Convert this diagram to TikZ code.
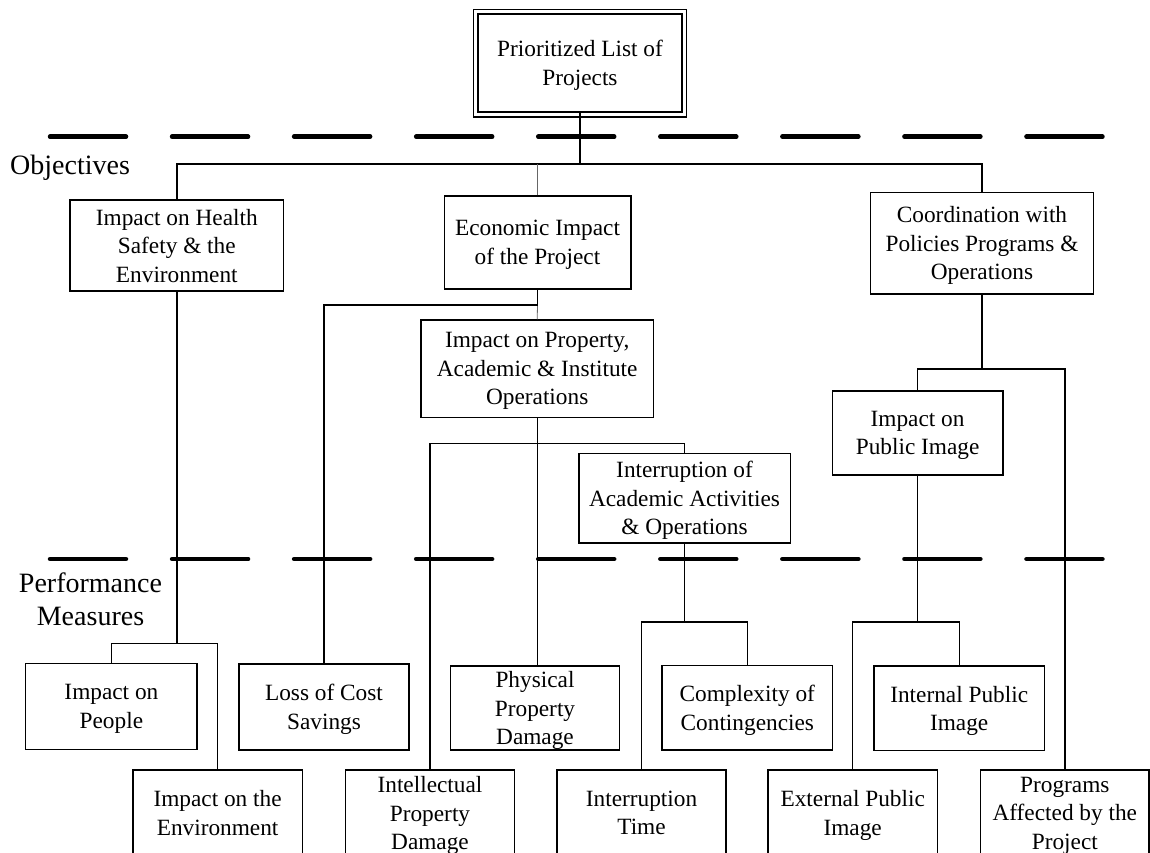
\documentclass[tikz,border=0pt]{standalone}
\usepackage{fontspec}
\setmainfont{Liberation Serif}
\begin{document}
\begin{tikzpicture}[x=1pt,y=-1pt,
  box/.style={draw, line width=1.6pt, inner sep=0pt, align=center, text depth=0pt,
    font=\fontsize{23.3}{28.5}\selectfont},
  link/.style={line width=1.4pt},
  faint/.style={line width=0.8pt, black!60},
  divider/.style={line width=4.5pt, line cap=round, dash pattern=on 76pt off 46.06pt},
  side/.style={font=\fontsize{28}{33.3}\selectfont, inner sep=0pt, align=center}]

\path[use as bounding box] (0,0) rectangle (1150,853);
\clip (0,0) rectangle (1150,853);

% goal
\node[box, line width=1.3pt, minimum width=204pt, minimum height=98pt] (top) at (580,63) {Prioritized List of\\Projects};
\draw[line width=1.3pt] ([shift={(-4pt,4pt)}]top.north west) rectangle ([shift={(4pt,-4.5pt)}]top.south east);

% objectives
\node[box, minimum width=213.6pt, minimum height=91pt]  (health) at (176.8,245.5) {Impact on Health\\Safety \& the\\Environment};
\node[box, minimum width=186.4pt, minimum height=92.7pt] (econ) at (537.5,242.4) {Economic Impact\\of the Project};
\node[box, minimum width=222.7pt, minimum height=101.7pt] (coord) at (982,243.2) {Coordination with\\Policies Programs \&\\Operations};
\node[box, minimum width=232.3pt, minimum height=97.3pt] (prop) at (537.2,368.7) {Impact on Property,\\Academic \& Institute\\Operations};
\node[box, minimum width=211.6pt, minimum height=89.4pt] (interr) at (684.5,498) {Interruption of\\Academic Activities\\\& Operations};
\node[box, minimum width=170.3pt, minimum height=84.3pt] (pubimg) at (917.6,432.9) {Impact on\\Public Image};

% performance measures, upper row
\node[box, minimum width=171.5pt, minimum height=86pt] (people) at (111.4,706.3) {Impact on\\People};
\node[box, minimum width=169.5pt, minimum height=86pt] (loss) at (324,707) {Loss of Cost\\Savings};
\node[box, minimum width=169.3pt, minimum height=84pt] (phys) at (535,708) {Physical\\Property\\Damage};
\node[box, minimum width=170.3pt, minimum height=84.7pt] (complex) at (747.3,707.7) {Complexity of\\Contingencies};
\node[box, minimum width=170.7pt, minimum height=84.7pt] (internal) at (959.2,708.3) {Internal Public\\Image};

% performance measures, lower row
\node[box, minimum width=169.5pt, minimum height=86pt] (env) at (217.6,813) {Impact on the\\Environment};
\node[box, minimum width=168.8pt, minimum height=86pt] (intel) at (430,813) {Intellectual\\Property\\Damage};
\node[box, minimum width=169pt, minimum height=86pt] (itime) at (641.5,813) {Interruption\\Time};
\node[box, minimum width=169.2pt, minimum height=86pt] (ext) at (852.7,813) {External Public\\Image};
\node[box, minimum width=168.5pt, minimum height=86pt] (prog) at (1064.8,813) {Programs\\Affected by the\\Project};

% level labels
\node[side, anchor=base west] (objlabel) at (10,175) {Objectives};
\node[side] (pmlabel) at (90.5,599) {Performance\\Measures};

% junction points of the tree
\coordinate (bus) at (580,164);
\coordinate (j1) at (537.5,305);
\coordinate (j2) at (537.2,443.3);
\coordinate (j3) at (982,369);
\coordinate (j4) at (917.6,622);
\coordinate (j5) at (684.5,622);
\coordinate (j6) at (176.8,643.3);

% connectors
\draw[link] (top.south) -- (bus);
\draw[link] (health.north) |- (bus) -| (coord.north);
\draw[faint] (econ.north) -- (econ.north |- bus);
\draw[link] (econ.south) -- (j1);
\draw[faint] (j1) -- (prop.north);
\draw[link] (j1) -| (loss.north);
\draw[link] (prop.south) -- (prop.south |- phys.north);
\draw[link] (intel.north) |- (j2) -| (interr.north);
\draw[link] (coord.south) -- (j3);
\draw[link] (pubimg.north) |- (j3) -| (prog.north);
\draw[link] (pubimg.south) -- (j4);
\draw[link] (ext.north) |- (j4) -| (internal.north);
\draw[link] (interr.south) -- (j5);
\draw[link] (itime.north) |- (j5) -| (complex.north);
\draw[link] (health.south) -- (j6);
\draw[link] (people.north) |- (j6) -| (env.north);

% level dividers
\coordinate (d1a) at (50,136.7);  \coordinate (d1b) at (1103,136.7);
\coordinate (d2a) at (50,559);    \coordinate (d2b) at (1103,559);
\draw[divider] (d1a) -- (d1b);
\draw[divider] (d2a) -- (d2b);
\end{tikzpicture}
\end{document}
